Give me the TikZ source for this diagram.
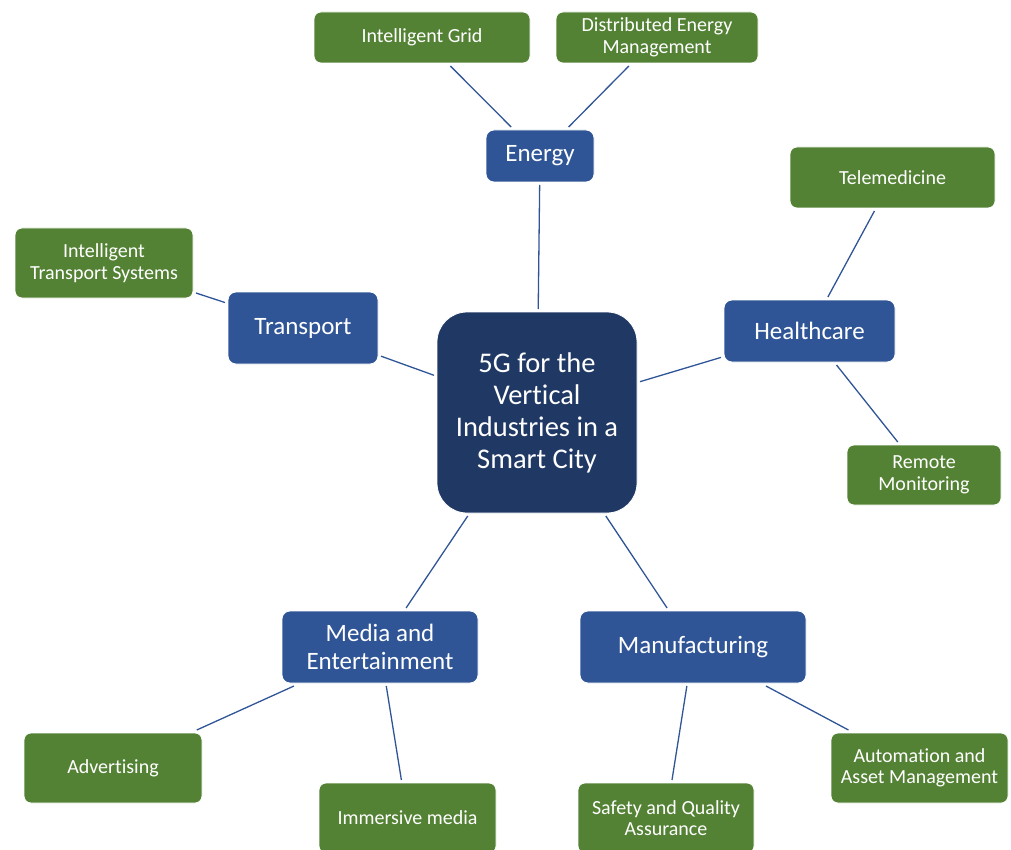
\documentclass[tikz,border=0pt]{standalone}
\usepackage{fontspec}
\setmainfont{Carlito}[Ligatures={NoCommon}]
\usepackage{tikz}
\usetikzlibrary{shapes,arrows,positioning}

\definecolor{LeafGreen}{HTML}{548235}
\definecolor{HubBlue}{HTML}{2F5597}
\definecolor{CoreBlue}{HTML}{203864}

\begin{document}
\begin{tikzpicture}[x=1pt, y=-1pt]
			\tikzstyle{Box}		= [rectangle, draw=white, line width=0.8pt, text=white, align=center, inner sep=2pt, outer sep=3pt]
			\tikzstyle{Leaf}	= [Box, fill=LeafGreen, rounded corners=7pt, font=\fontsize{20}{21.5}\selectfont]
			\tikzstyle{Hub}		= [Box, fill=HubBlue, rounded corners=8pt, font=\fontsize{25}{28}\selectfont]
			\tikzstyle{Core}	= [Box, fill=CoreBlue, rounded corners=30pt, font=\fontsize{28.5}{32}\selectfont]
			\tikzstyle{Link}	= [HubBlue, line width=1.3pt]
			
			\useasboundingbox (0, 0) rectangle (1011, 850);
			
			\node (core) at (537, 412.5) [Core, minimum width=200pt, minimum height=201pt] {5G for the\\Vertical\\Industries in a\\Smart City};
			
			\node (energy) at (540, 156) [Hub, minimum width=108pt, minimum height=52pt] {Energy};
			\node (transport) at (303, 328) [Hub, minimum width=150pt, minimum height=72pt] {Transport};
			\node (health) at (809.5, 331) [Hub, minimum width=171pt, minimum height=62pt] {Healthcare};
			\node (media) at (380, 647) [Hub, minimum width=196pt, minimum height=72pt] {Media and\\Entertainment};
			\node (manuf) at (693, 647) [Hub, minimum width=226pt, minimum height=72pt] {Manufacturing};
			
			\node (grid) at (422, 37.5) [Leaf, minimum width=216pt, minimum height=51pt] {Intelligent Grid};
			\node (dem) at (657, 37.5) [Leaf, minimum width=202pt, minimum height=51pt] {Distributed Energy\\Management};
			\node (its) at (104, 263) [Leaf, minimum width=178pt, minimum height=70pt] {Intelligent\\Transport Systems};
			\node (tele) at (892.5, 177.5) [Leaf, minimum width=205pt, minimum height=61pt] {Telemedicine};
			\node (remote) at (924, 475) [Leaf, minimum width=154pt, minimum height=60pt] {Remote\\Monitoring};
			\node (advert) at (113, 768) [Leaf, minimum width=178pt, minimum height=70pt] {Advertising};
			\node (immersive) at (407.5, 818) [Leaf, minimum width=177pt, minimum height=70pt] {Immersive media};
			\node (safety) at (666, 818) [Leaf, minimum width=176pt, minimum height=70pt] {Safety and Quality\\Assurance};
			\node (autom) at (919.5, 768) [Leaf, minimum width=177pt, minimum height=70pt] {Automation and\\Asset Management};
			
			\draw [-] (core) to (energy) [Link];
			\draw [-] (core) to (transport) [Link];
			\draw [-] (core) to (health) [Link];
			\draw [-] (core) to (media) [Link];
			\draw [-] (core) to (manuf) [Link];
			
			\draw [-] (energy) to (grid) [Link];
			\draw [-] (energy) to (dem) [Link];
			\draw [-] (transport) to (its) [Link];
			\draw [-] (health) to (tele) [Link];
			\draw [-] (health) to (remote) [Link];
			\draw [-] (media) to (advert) [Link];
			\draw [-] (media) to (immersive) [Link];
			\draw [-] (manuf) to (safety) [Link];
			\draw [-] (manuf) to (autom) [Link];
		\end{tikzpicture}
\end{document}
